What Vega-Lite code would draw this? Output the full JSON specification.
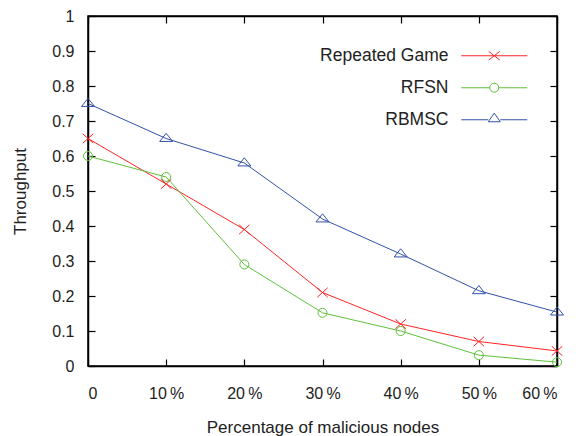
{
  "$schema": "https://vega.github.io/schema/vega-lite/v6.json",
  "width": 469,
  "height": 350,
  "autosize": "none",
  "padding": {"left": 88, "top": 16, "right": 25, "bottom": 70},
  "background": "white",
  "config": {
    "font": "Liberation Sans",
    "view": {"stroke": "black", "strokeWidth": 1.5},
    "axis": {
      "grid": false,
      "domainColor": "black",
      "domainWidth": 1.5,
      "tickColor": "black",
      "tickWidth": 1.2,
      "labelColor": "#222",
      "labelFont": "Liberation Sans",
      "labelFontSize": 16,
      "titleFont": "Liberation Sans",
      "titleFontSize": 17,
      "titleFontWeight": "normal",
      "titleColor": "#222"
    }
  },
  "data": {
    "values": [
      {"pct": 0, "series": "Repeated Game", "throughput": 0.65},
      {"pct": 10, "series": "Repeated Game", "throughput": 0.52},
      {"pct": 20, "series": "Repeated Game", "throughput": 0.39},
      {"pct": 30, "series": "Repeated Game", "throughput": 0.21},
      {"pct": 40, "series": "Repeated Game", "throughput": 0.12},
      {"pct": 50, "series": "Repeated Game", "throughput": 0.07},
      {"pct": 60, "series": "Repeated Game", "throughput": 0.043},
      {"pct": 0, "series": "RFSN", "throughput": 0.60},
      {"pct": 10, "series": "RFSN", "throughput": 0.54},
      {"pct": 20, "series": "RFSN", "throughput": 0.29},
      {"pct": 30, "series": "RFSN", "throughput": 0.152},
      {"pct": 40, "series": "RFSN", "throughput": 0.10},
      {"pct": 50, "series": "RFSN", "throughput": 0.031},
      {"pct": 60, "series": "RFSN", "throughput": 0.011},
      {"pct": 0, "series": "RBMSC", "throughput": 0.75},
      {"pct": 10, "series": "RBMSC", "throughput": 0.65},
      {"pct": 20, "series": "RBMSC", "throughput": 0.58},
      {"pct": 30, "series": "RBMSC", "throughput": 0.42},
      {"pct": 40, "series": "RBMSC", "throughput": 0.32},
      {"pct": 50, "series": "RBMSC", "throughput": 0.215},
      {"pct": 60, "series": "RBMSC", "throughput": 0.154}
    ]
  },
  "encoding": {
    "color": {
      "field": "series",
      "type": "nominal",
      "scale": {"domain": ["Repeated Game", "RFSN", "RBMSC"], "range": ["#ff2424", "#5fc03c", "#3352a8"]},
      "legend": {
        "title": null,
        "orient": "none",
        "legendX": 315,
        "legendY": 31,
        "padding": 0,
        "rowPadding": 13,
        "labelAlign": "right",
        "labelOffset": -54.5,
        "symbolOffset": 82.5,
        "symbolSize": 100,
        "labelFontSize": 17.5,
        "labelColor": "#222",
        "labelLimit": 300,
        "labelFont": "Liberation Sans",
        "symbolStrokeWidth": 1,
        "encode": {
          "symbols": {
            "update": {
              "shape": {"signal": "datum.value === 'Repeated Game' ? 'M-6.6,0H6.6M-1.1,-0.86L1.1,0.86M-1.1,0.86L1.1,-0.86' : datum.value === 'RFSN' ? 'M-6.6,0H-0.9M0.9,0H6.6M0.9,0A0.9,0.9,0,1,1,-0.9,0A0.9,0.9,0,1,1,0.9,0' : 'M-6.6,0H-1.2M1.2,0H6.6M-1.2,0.4L0,-1.32L1.2,0.4Z'"},
              "fill": {"value": "transparent"},
              "stroke": {"scale": "color", "field": "value"},
              "strokeWidth": {"value": 1},
              "opacity": {"value": 1}
            }
          }
        }
      }
    }
  },
  "layer": [
    {
      "mark": {"type": "line", "strokeWidth": 1},
      "encoding": {
        "x": {
          "field": "pct",
          "type": "quantitative",
          "scale": {"domain": [0, 60]},
          "axis": {
            "orient": "bottom",
            "values": [0, 10, 20, 30, 40, 50, 60],
            "labelExpr": "datum.value === 0 ? '0' : datum.value + '\u2009%'",
            "tickSize": -7,
            "labelPadding": 26,
            "title": "Percentage of malicious nodes",
            "titlePadding": 18
          }
        },
        "y": {
          "field": "throughput",
          "type": "quantitative",
          "scale": {"domain": [0, 1]},
          "axis": {
            "orient": "left",
            "values": [0, 0.1, 0.2, 0.3, 0.4, 0.5, 0.6, 0.7, 0.8, 0.9, 1],
            "format": "~g",
            "tickSize": -7,
            "labelPadding": 21,
            "title": "Throughput",
            "titlePadding": 22
          }
        }
      }
    },
    {
      "transform": [{"filter": "datum.series === 'Repeated Game'"}],
      "mark": {"type": "point", "filled": false, "strokeWidth": 1, "opacity": 1, "shape": "M-1,-0.9L1,0.9M-1,0.9L1,-0.9", "size": 110},
      "encoding": {
        "x": {"field": "pct", "type": "quantitative", "axis": null},
        "y": {"field": "throughput", "type": "quantitative", "axis": null}
      }
    },
    {
      "transform": [{"filter": "datum.series === 'RFSN'"}],
      "mark": {"type": "point", "filled": false, "strokeWidth": 1, "opacity": 1, "shape": "circle", "size": 81},
      "encoding": {
        "x": {"field": "pct", "type": "quantitative", "axis": null},
        "y": {"field": "throughput", "type": "quantitative", "axis": null}
      }
    },
    {
      "transform": [{"filter": "datum.series === 'RBMSC'"}],
      "mark": {"type": "point", "filled": false, "strokeWidth": 1, "opacity": 1, "shape": "M-1,0.45L0,-0.8L1,0.45Z", "size": 169},
      "encoding": {
        "x": {
          "field": "pct",
          "type": "quantitative",
          "axis": {"orient": "top", "values": [0, 10, 20, 30, 40, 50, 60], "labels": false, "tickSize": -7, "title": null}
        },
        "y": {
          "field": "throughput",
          "type": "quantitative",
          "axis": {"orient": "right", "values": [0, 0.1, 0.2, 0.3, 0.4, 0.5, 0.6, 0.7, 0.8, 0.9, 1], "labels": false, "tickSize": -7, "title": null}
        }
      }
    }
  ],
  "resolve": {"axis": {"x": "independent", "y": "independent"}}
}
